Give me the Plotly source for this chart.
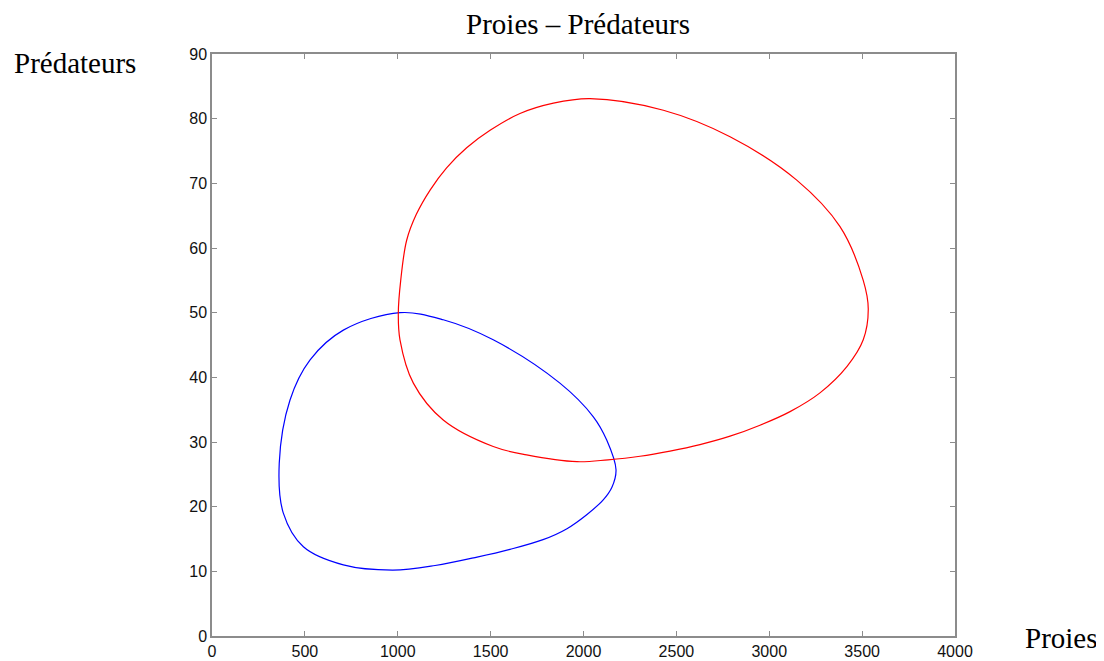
import plotly.graph_objects as go

# Blue cycle (prey, predators)
blue_prey = [1012, 1245, 1514, 1873, 2053, 2125, 2175, 2153, 2105, 2019, 1911, 1782, 1604, 1427, 1201, 974, 707, 492, 384, 362, 420, 528, 707, 1012]
blue_pred = [50.0, 48.9, 45.8, 39.1, 33.9, 30.3, 25.7, 23.0, 21.0, 18.8, 16.6, 14.9, 13.4, 12.2, 10.9, 10.2, 11.0, 13.8, 19.0, 26.7, 36.5, 42.7, 47.3, 50.0]

# Red cycle
red_prey = [1003, 1016, 1048, 1100, 1175, 1263, 1371, 1497, 1658, 1838, 2035, 2430, 2789, 3148, 3381, 3506, 3533, 3506, 3419, 3273, 3112, 2950, 2789, 2627, 2466, 2304, 2132, 1965, 1694, 1514, 1245, 1084, 1012, 1003]
red_pred = [49.9, 55.0, 61.2, 65.2, 69.0, 72.4, 75.5, 78.2, 80.8, 82.4, 83.1, 81.3, 77.2, 70.5, 63.3, 55.0, 50.6, 45.8, 41.7, 37.6, 34.7, 32.6, 30.9, 29.6, 28.6, 27.8, 27.25, 26.95, 28.0, 29.3, 33.4, 39.1, 45.8, 49.9]

x_ticks = [0, 500, 1000, 1500, 2000, 2500, 3000, 3500, 4000]
y_ticks = [0, 10, 20, 30, 40, 50, 60, 70, 80, 90]

fig = go.Figure()
fig.add_trace(go.Scatter(x=blue_prey, y=blue_pred, mode="lines",
                         line=dict(color="#0000ff", width=1.2, shape="spline", smoothing=1.0),
                         showlegend=False))
fig.add_trace(go.Scatter(x=red_prey, y=red_pred, mode="lines",
                         line=dict(color="#ff0000", width=1.2, shape="spline", smoothing=1.0),
                         showlegend=False))

axis_common = dict(showgrid=False, zeroline=False, showline=True, mirror="ticks",
                   linecolor="#8c8c8c", linewidth=1.5, ticks="inside", ticklen=5,
                   tickcolor="#8c8c8c", tickwidth=1, automargin=False,
                   tickfont=dict(family="Liberation Sans, Arial", size=16, color="#111"))

fig.update_xaxes(range=[0, 4000], tickvals=x_ticks, ticktext=[str(v) for v in x_ticks], **axis_common)
fig.update_yaxes(range=[0, 90], tickvals=y_ticks, ticktext=[str(v) for v in y_ticks], **axis_common)

serif = dict(family="Liberation Serif, Times New Roman", size=29, color="#000")

fig.update_layout(
    width=1096, height=653,
    margin=dict(l=204, r=149, t=46, b=25),
    plot_bgcolor="white", paper_bgcolor="white",
    title=dict(text="Proies – Prédateurs", x=570 / 1096, xanchor="center",
               yref="container", y=1 - 16 / 653, yanchor="middle", font=serif),
    annotations=[
        dict(text="Prédateurs", xref="paper", yref="paper", x=(3.7 - 204) / 743, y=(628 - 55) / 582,
             xanchor="left", yanchor="middle", showarrow=False, font=serif),
        dict(text="Proies", xref="paper", yref="paper", x=(1015 - 204) / 743, y=(628 - 630) / 582,
             xanchor="left", yanchor="middle", showarrow=False, font=serif),
    ],
)

fig.write_html("out.html")
